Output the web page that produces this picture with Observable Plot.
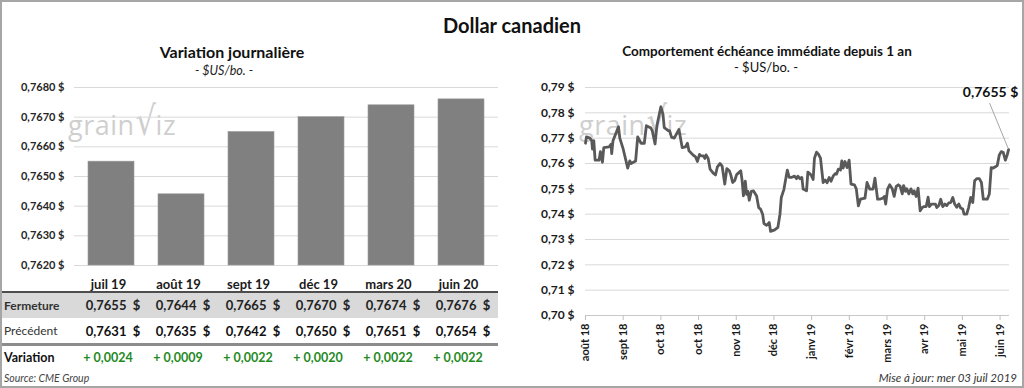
<!DOCTYPE html>
<html>
<head>
<meta charset="utf-8">
<script src="https://cdn.jsdelivr.net/npm/d3@7"></script>
<script src="https://cdn.jsdelivr.net/npm/@observablehq/plot@0.6"></script>
<style>
  html, body { margin: 0; padding: 0; background: #fff; }
  #frame { position: relative; width: 1024px; height: 388px; overflow: hidden; background: #fff;
           font-family: Lato, "Open Sans", sans-serif; color: #1a1a1a; }
  #border { position: absolute; left: 0; top: 0; width: 1024px; height: 388px; box-sizing: border-box;
            border: 2px solid #a6a6a6; pointer-events: none; z-index: 10; }
  .abs { position: absolute; white-space: pre; }
  .wm { position: absolute; color: #cfcfcf; font-family: "Open Sans", Lato, sans-serif; font-size: 27px;
        letter-spacing: 0.5px; line-height: 30px; z-index: 0; }
  .wm .v { font-family: "DejaVu Sans", sans-serif; font-size: 40px; display: inline-block; transform: scaleX(0.8); margin: 0 -3px 0 -2px; }
  .chart { position: absolute; z-index: 1; }
</style>
</head>
<body>
<div id="frame">
  <div id="border"></div>
</div>
<script>
// ---------- Données ----------
const mois = ["juil 19", "août 19", "sept 19", "déc 19", "mars 20", "juin 20"];
const fermeture = [0.7655, 0.7644, 0.7665, 0.7670, 0.7674, 0.7676];
const precedent = [0.7631, 0.7635, 0.7642, 0.7650, 0.7651, 0.7654];
const variation = [0.0024, 0.0009, 0.0022, 0.0020, 0.0022, 0.0022];
const barTicks = [0.7620, 0.7630, 0.7640, 0.7650, 0.7660, 0.7670, 0.7680];

const seance = [0, 0.5, 2.3, 3.3, 3.7, 4.4, 5.1, 7.2, 7.9, 9.0, 9.7, 12.5, 13.6, 13.9, 14.6, 17.5, 18.2, 19.9, 22.4, 23.5,
  24.2, 26.6, 27.7, 29.5, 31.2, 32.3, 34.7, 35.4, 36.9, 37.9, 40.0, 41.1, 41.8, 43.9, 44.6, 45.7, 47.1, 47.8, 49.6, 51.3,
  53.1, 54.1, 54.9, 57.0, 58.4, 59.4, 60.5, 61.2, 62.6, 63.3, 64.0, 65.1, 66.1, 67.9, 69.0, 70.0, 71.4, 72.5, 73.9, 75.0,
  76.4, 77.1, 78.1, 79.2, 80.2, 82.4, 83.1, 83.8, 84.8, 85.5, 86.2, 86.9, 88.0, 89.1, 90.8, 91.9, 92.9, 94.0, 94.7, 96.1,
  96.8, 97.5, 98.2, 100.4, 102.1, 103.2, 103.9, 105.3, 107.1, 108.1, 109.2, 110.9, 112.0, 112.7, 113.8, 114.8, 115.5, 117.3, 118.0, 119.0,
  119.8, 120.8, 121.5, 122.6, 123.6, 124.7, 126.1, 127.2, 128.2, 129.3, 130.3, 131.4, 132.5, 133.2, 134.2, 135.3, 136.0, 136.7, 137.7, 138.8,
  139.9, 140.9, 142.7, 143.7, 144.8, 145.9, 148.3, 149.4, 150.8, 152.6, 153.6, 155.0, 156.1, 157.8, 158.6, 159.3, 160.3, 161.4, 162.8, 163.8,
  164.9, 166.0, 167.0, 168.1, 168.8, 169.8, 170.5, 171.6, 172.7, 173.7, 174.4, 175.5, 176.5, 177.6, 178.7, 179.7, 180.8, 181.8, 182.5, 183.6,
  184.7, 185.7, 186.4, 187.5, 188.5, 189.6, 190.7, 191.7, 192.8, 193.8, 194.9, 195.9, 197.0, 198.1, 199.1, 200.2, 200.9, 202.3, 203.3, 204.4,
  205.5, 206.5, 207.6, 209.0, 210.1, 211.1, 213.2, 214.3, 215.3, 216.4, 217.5, 218.5, 219.6, 220.6, 221.7, 222.8, 223.8, 224.5];
const cours = [0.768, 0.7705, 0.770, 0.769, 0.7657, 0.769, 0.7613, 0.7613, 0.7647, 0.7605, 0.7663, 0.7666, 0.7676, 0.7639, 0.769, 0.7745, 0.770, 0.766, 0.7582, 0.761,
  0.760, 0.761, 0.7705, 0.768, 0.768, 0.7749, 0.774, 0.773, 0.7677, 0.775, 0.7824, 0.7795, 0.7742, 0.773, 0.773, 0.7703, 0.770, 0.771, 0.7734, 0.7663,
  0.7666, 0.768, 0.765, 0.7634, 0.7626, 0.7608, 0.7636, 0.763, 0.763, 0.762, 0.7634, 0.762, 0.7578, 0.7561, 0.7555, 0.7587, 0.760, 0.759, 0.7519, 0.758,
  0.757, 0.7555, 0.7525, 0.7533, 0.7556, 0.7571, 0.7533, 0.7472, 0.753, 0.7478, 0.749, 0.7455, 0.749, 0.7492, 0.7472, 0.7426, 0.742, 0.740, 0.7363, 0.7356,
  0.7361, 0.7367, 0.7332, 0.7338, 0.7348, 0.740, 0.7466, 0.7498, 0.7574, 0.7545, 0.7545, 0.755, 0.754, 0.755, 0.754, 0.7545, 0.7499, 0.7492, 0.7566, 0.756,
  0.7553, 0.7537, 0.7621, 0.7645, 0.7637, 0.7621, 0.7525, 0.7535, 0.7524, 0.7545, 0.753, 0.755, 0.756, 0.7558, 0.7578, 0.7574, 0.761, 0.7582, 0.7608, 0.7584,
  0.7613, 0.7519, 0.7516, 0.75, 0.7433, 0.7459, 0.7463, 0.7525, 0.7499, 0.7499, 0.7542, 0.7459, 0.7459, 0.7463, 0.747, 0.744, 0.7499, 0.7516, 0.75, 0.747,
  0.751, 0.7516, 0.751, 0.748, 0.7513, 0.749, 0.75, 0.748, 0.75, 0.748, 0.7492, 0.747, 0.7503, 0.7413, 0.7426, 0.743, 0.743, 0.7467, 0.743, 0.744,
  0.744, 0.744, 0.7426, 0.7434, 0.7459, 0.743, 0.744, 0.7434, 0.7445, 0.7446, 0.7466, 0.744, 0.7427, 0.744, 0.7424, 0.742, 0.740, 0.740, 0.7426, 0.7466,
  0.7446, 0.7532, 0.754, 0.754, 0.7525, 0.7459, 0.7459, 0.748, 0.7584, 0.7582, 0.7587, 0.7592, 0.7634, 0.7647, 0.7643, 0.7613, 0.7634, 0.7655];
const lineTicks = [0.70, 0.71, 0.72, 0.73, 0.74, 0.75, 0.76, 0.77, 0.78, 0.79];
const dateTicks = [0, 20, 40, 60, 80, 100, 120, 140, 160, 180, 200, 220];
const dateLabels = ["août 18", "sept 18", "oct 18", "oct 18", "nov 18", "déc 18", "janv 19", "févr 19", "mars 19", "avr 19", "mai 19", "juin 19"];

// ---------- Helpers ----------
const frame = document.getElementById("frame");
const fr = (v, n) => v.toFixed(n).replace(".", ",");
function addText(txt, opts) {
  const d = document.createElement("div");
  d.className = "abs";
  d.textContent = txt;
  const h = opts.lh || Math.round(opts.size * 1.3);
  d.style.fontSize = opts.size + "px";
  d.style.lineHeight = h + "px";
  d.style.top = (opts.cy - h / 2) + "px";
  if (opts.weight) d.style.fontWeight = opts.weight;
  if (opts.italic) d.style.fontStyle = "italic";
  if (opts.color) d.style.color = opts.color;
  if (opts.align === "center") { d.style.left = (opts.x - 200) + "px"; d.style.width = "400px"; d.style.textAlign = "center"; }
  else if (opts.align === "right") { d.style.left = (opts.x - 400) + "px"; d.style.width = "400px"; d.style.textAlign = "right"; }
  else d.style.left = opts.x + "px";
  d.style.zIndex = 2;
  frame.appendChild(d);
  return d;
}
function addBox(l, t, w, h, bg, z) {
  const d = document.createElement("div");
  d.className = "abs";
  Object.assign(d.style, { left: l + "px", top: t + "px", width: w + "px", height: h + "px", background: bg, zIndex: z || 0 });
  frame.appendChild(d);
}
function addWatermark(l, t) {
  const d = document.createElement("div");
  d.className = "wm";
  d.style.left = l + "px"; d.style.top = t + "px";
  d.innerHTML = 'grain<span class="v">\u221A</span>iz';
  frame.appendChild(d);
}

// ---------- Titles ----------
addText("Dollar canadien", { x: 512, cy: 25, size: 20, weight: "bold", align: "center", color: "#111" });
addText("Variation journalière", { x: 232, cy: 51, size: 16, weight: "bold", align: "center", color: "#111" });
addText("- $US/bo. -", { x: 224, cy: 71, size: 12.5, italic: true, align: "center", color: "#222" });
addText("Comportement échéance immédiate depuis 1 an", { x: 767, cy: 51, size: 13.5, weight: "bold", align: "center", color: "#111" });
addText("- $US/bo. -", { x: 766, cy: 67, size: 13, align: "center", color: "#111" });

addWatermark(68, 106);
addWatermark(579, 106);

// ---------- Left: bar chart ----------
const bars = mois.map((m, i) => ({ mois: m, valeur: fermeture[i] }));
const left = Plot.plot({
  width: 500, height: 220,
  marginTop: 12, marginBottom: 30, marginLeft: 74, marginRight: 2,
  style: { background: "none", fontFamily: "Lato, sans-serif", fontSize: "11px", color: "#262626", overflow: "visible" },
  x: { domain: mois, paddingInner: 0.34, paddingOuter: 0.17, label: null },
  y: { domain: [barTicks[0], barTicks[barTicks.length - 1]], label: null },
  marks: [
    Plot.gridY({ ticks: barTicks, stroke: "#d9d9d9", strokeOpacity: 1 }),
    Plot.barY(bars, { x: "mois", y1: barTicks[0], y2: "valeur", fill: "#808080", stroke: "#9a9a9a", strokeWidth: 0.6 }),
    Plot.axisY({ ticks: barTicks, tickSize: 0, tickPadding: 10, tickFormat: d => fr(d, 4) + " $", fontWeight: "bold", label: null }),
    Plot.axisX({ tickSize: 0, tickPadding: 14, dx: -3, fontWeight: "bold", fontSize: 13, fill: "#1a1a1a", label: null })
  ]
});
left.classList.add("chart");
left.style.left = "0px"; left.style.top = "75px";
frame.appendChild(left);

// ---------- Table ----------
const xs = left.scale("x");
const colCenter = m => xs.apply(m) + xs.bandwidth / 2;
addBox(0, 291, 498, 2, "#4d4d4d", 1);
addBox(2, 293, 496, 25, "#d9d9d9", 0);
addBox(0, 343, 498, 3, "#8c8c8c", 1);
addText("Fermeture", { x: 4, cy: 305.5, size: 12, weight: "bold", color: "#333" });
addText("Précédent", { x: 4, cy: 331, size: 12, color: "#333" });
addText("Variation", { x: 4, cy: 358, size: 12.5, weight: "bold", color: "#111" });
mois.forEach((m, i) => {
  const cx = colCenter(m);
  addText(fr(fermeture[i], 4) + "  $", { x: cx + 2, cy: 305.5, size: 13, weight: "bold", align: "center", color: "#222" });
  addText(fr(precedent[i], 4) + "  $", { x: cx + 2, cy: 331, size: 13, weight: "bold", align: "center", color: "#111" });
  addText("+ " + fr(variation[i], 4), { x: cx - 3, cy: 358, size: 12.5, weight: "bold", align: "center", color: "#1f8a1f" });
});
addText("Source: CME Group", { x: 4, cy: 378, size: 10.5, italic: true, color: "#444" });
addText("Mise à jour: mer 03 juil 2019", { x: 1017, cy: 377, size: 11.5, italic: true, align: "right", color: "#333" });

// ---------- Right: line chart ----------
const serie = seance.map((s, i) => ({ seance: s, cours: cours[i] })).filter(d => d.cours != null);
const last = serie[serie.length - 1];
const right = Plot.plot({
  width: 512, height: 290,
  marginTop: 12, marginBottom: 50, marginLeft: 73, marginRight: 15,
  style: { background: "none", fontFamily: "Lato, sans-serif", fontSize: "11px", color: "#262626", overflow: "visible" },
  x: { domain: [0, 225], label: null },
  y: { domain: [lineTicks[0], lineTicks[lineTicks.length - 1]], label: null },
  marks: [
    Plot.gridY({ ticks: lineTicks, stroke: "#d9d9d9", strokeOpacity: 1 }),
    Plot.ruleY([lineTicks[0]], { stroke: "#c8c8c8" }),
    Plot.axisX({ ticks: dateTicks, tickFormat: d => dateLabels[dateTicks.indexOf(d)], tickRotate: -90,
                 tickSize: 5, tickPadding: 3, stroke: "#bfbfbf", fill: "#1a1a1a", fontWeight: "bold", label: null }),
    Plot.axisY({ ticks: lineTicks, tickSize: 0, tickPadding: 11, tickFormat: d => fr(d, 2) + " $",
                 fontWeight: "bold", fontSize: 12, fill: "#1a1a1a", label: null }),
    Plot.line(serie, { x: "seance", y: "cours", stroke: "#595959", strokeWidth: 2.8, strokeLinejoin: "round" }),
    Plot.text([last], { x: "seance", y: "cours", text: d => fr(d.cours, 4) + " $", dx: -18, dy: -57,
                        fontSize: 14, fontWeight: "bold", fill: "#111" })
  ]
});
right.classList.add("chart");
right.style.left = "512px"; right.style.top = "75px";
frame.appendChild(right);

// leader line for the annotation, positioned with the chart's scales
const rx = right.scale("x"), ry = right.scale("y");
const px = rx.apply(last.seance), py = ry.apply(last.cours);
d3.select(right).append("line")
  .attr("x1", px - 18.5).attr("y1", py - 46)
  .attr("x2", px).attr("y2", py - 1)
  .attr("stroke", "#a6a6a6").attr("stroke-width", 1);
</script>
</body>
</html>
